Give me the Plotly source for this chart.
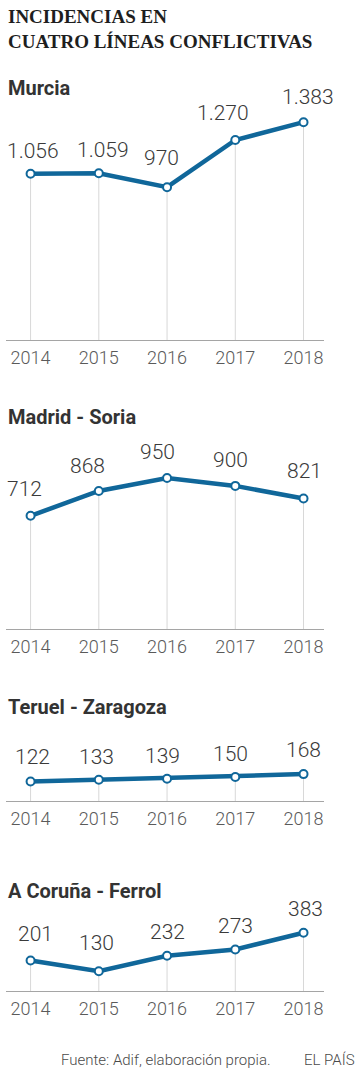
import plotly.graph_objects as go

W, H = 360, 1081

years = [2014, 2015, 2016, 2017, 2018]
titles = ["Murcia", "Madrid - Soria", "Teruel - Zaragoza", "A Coruña - Ferrol"]
murcia = [1056, 1059, 970, 1270, 1383]
madrid_soria = [712, 868, 950, 900, 821]
teruel_zaragoza = [122, 133, 139, 150, 168]
coruna_ferrol = [201, 130, 232, 273, 383]
series = [murcia, madrid_soria, teruel_zaragoza, coruna_ferrol]

# layout (pixels): plot top, baseline, px per unit, title baseline
panels = [
    dict(top=110, base=340, ppu=0.1575, title_y=97),
    dict(top=470, base=629, ppu=0.159, title_y=426),
    dict(top=770, base=801, ppu=0.16, title_y=716),
    dict(top=925, base=991, ppu=0.152, title_y=900),
]
# label offsets in pixels
label_dx = [
    [2, 4, -6, -12, 4],
    [-6, -11, -10, -5, 1],
    [2, -2, -5, -5, 0],
    [5, -2, 0, 0, 2],
]
label_dy = [
    [9, 9, 15, 13, 11],
    [13, 11, 12, 12, 13],
    [10, 9, 9, 9, 10],
    [12, 14, 10, 10, 10],
]

BLUE = "#10679a"
fmt = lambda v: f"{v:,}".replace(",", ".")

fig = go.Figure()
annotations = []
X0, X1 = 6, 324
for i, (vals, p) in enumerate(zip(series, panels)):
    n = i + 1
    xa = "x" if n == 1 else f"x{n}"
    ya = "y" if n == 1 else f"y{n}"
    dx, dy = [], []
    for yr, v in zip(years, vals):
        dx += [yr, yr, None]
        dy += [0, v, None]
    fig.add_trace(go.Scatter(x=dx, y=dy, mode="lines", xaxis=xa, yaxis=ya,
                             line=dict(color="#d8d8d8", width=1),
                             hoverinfo="skip", showlegend=False, cliponaxis=False))
    fig.add_trace(go.Scatter(x=years, y=vals, mode="lines+markers", xaxis=xa, yaxis=ya,
                             line=dict(color=BLUE, width=4.5),
                             marker=dict(size=8, color="white", line=dict(color=BLUE, width=2)),
                             showlegend=False, cliponaxis=False))
    for j, (yr, v) in enumerate(zip(years, vals)):
        annotations.append(dict(x=yr, y=v, xref=xa, yref=ya, text=fmt(v), showarrow=False,
                                yanchor="bottom", xanchor="center",
                                xshift=label_dx[i][j], yshift=label_dy[i][j],
                                font=dict(family="Roboto", size=21, color="#3a3a3a", weight=300)))
    dom = [1 - p["base"] / H, 1 - p["top"] / H]
    ymax = (p["base"] - p["top"]) / p["ppu"]
    fig.layout[f"xaxis{n if n > 1 else ''}"] = dict(
        domain=[X0 / W, X1 / W], range=[2013.64, 2018.3], anchor=ya,
        tickvals=years, ticktext=[str(y) for y in years],
        showgrid=False, zeroline=False, showline=True, linecolor="#a5a5a5", linewidth=1,
        ticks="outside", ticklen=1, tickcolor="rgba(0,0,0,0)",
        tickfont=dict(family="Roboto", size=18, color="#5a5a5a", weight=300), fixedrange=True)
    fig.layout[f"yaxis{n if n > 1 else ''}"] = dict(
        domain=dom, range=[0, ymax], anchor=xa, visible=False, fixedrange=True)
    annotations.append(dict(x=6 / W, y=1 - p["title_y"] / H, xref="paper", yref="paper",
                            text=f"<b>{titles[i]}</b>", showarrow=False,
                            xanchor="left", yanchor="bottom", yshift=-5,
                            font=dict(family="Roboto", size=20, color="#333333")))

annotations.append(dict(x=6 / W, y=1 - 4 / H, xref="paper", yref="paper",
                        text="<b>INCIDENCIAS EN<br>CUATRO LÍNEAS CONFLICTIVAS</b>",
                        showarrow=False, xanchor="left", yanchor="top", align="left",
                        font=dict(family="Liberation Serif", size=19, color="#1e1e1e")))
annotations.append(dict(x=273 / W, y=1 - 1060 / H, xref="paper", yref="paper",
                        text="Fuente: Adif, elaboración propia.", showarrow=False,
                        xanchor="right", yanchor="middle",
                        font=dict(family="Roboto", size=15, color="#4a4a4a", weight=300)))
annotations.append(dict(x=357 / W, y=1 - 1060 / H, xref="paper", yref="paper",
                        text="EL PAÍS", showarrow=False, xanchor="right", yanchor="middle",
                        font=dict(family="Roboto", size=15, color="#4a4a4a", weight=300)))

fig.update_layout(width=W, height=H, margin=dict(l=0, r=0, t=0, b=0),
                  paper_bgcolor="white", plot_bgcolor="white",
                  annotations=annotations, showlegend=False)
fig.write_html("out.html", config={"displayModeBar": False},
               post_script="document.body.style.margin='0';document.body.style.overflow='hidden';")
